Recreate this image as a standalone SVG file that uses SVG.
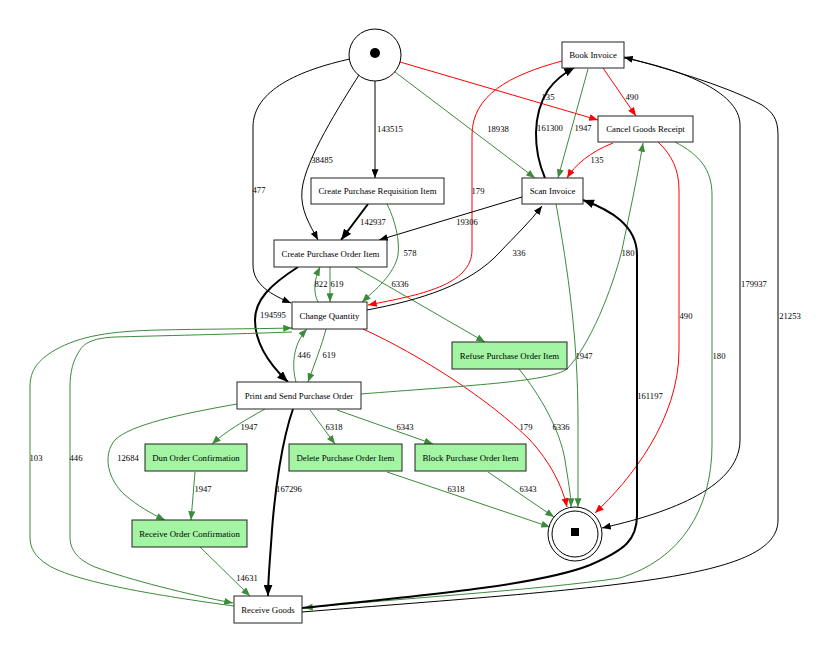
<svg xmlns="http://www.w3.org/2000/svg" width="830" height="653" viewBox="0 0 830 653">
<style>
.n rect{fill:#fff;stroke:#222;stroke-width:1}
.n.g rect{fill:#a3f5a3}
.n text{font-family:"Liberation Serif","Times New Roman",serif;font-size:8.8px;text-anchor:middle;fill:#000}
.e path{fill:none}
.k{stroke:#000;stroke-width:1}
.kt{stroke:#000;stroke-width:2}
.r{stroke:#f00;stroke-width:1}
.gr{stroke:#3c8a3c;stroke-width:1}
.l text{font-family:"Liberation Serif","Times New Roman",serif;font-size:8.6px;text-anchor:middle;fill:#000}
</style>
<defs>
<marker id="ak" viewBox="0 0 10 8" refX="10" refY="4" markerWidth="9" markerHeight="7" markerUnits="userSpaceOnUse" orient="auto"><path d="M0,0L10,4L0,8z" fill="#000"/></marker>
<marker id="akt" viewBox="0 0 10 8" refX="10" refY="4" markerWidth="11" markerHeight="9" markerUnits="userSpaceOnUse" orient="auto"><path d="M0,0L10,4L0,8z" fill="#000"/></marker>
<marker id="ar" viewBox="0 0 10 8" refX="10" refY="4" markerWidth="9" markerHeight="7" markerUnits="userSpaceOnUse" orient="auto"><path d="M0,0L10,4L0,8z" fill="#f00"/></marker>
<marker id="ag" viewBox="0 0 10 8" refX="10" refY="4" markerWidth="9" markerHeight="7" markerUnits="userSpaceOnUse" orient="auto"><path d="M0,0L10,4L0,8z" fill="#3c8a3c"/></marker>
</defs>
<rect width="830" height="653" fill="#fff"/>
<g id="edges" class="e">
<!-- start edges -->
<path class="k" marker-end="url(#ak)" d="M375,81 L375,178"/>
<path class="k" marker-end="url(#ak)" d="M359,75 C340,105 305,160 302,190 C300,210 310,225 318,240"/>
<path class="k" marker-end="url(#ak)" d="M350,59 C300,70 253,90 253,127 L253,265 C253,285 272,295 291,303"/>
<path class="gr" marker-end="url(#ag)" d="M395,72 L535,178"/>
<path class="r" marker-end="url(#ar)" d="M400,62 L598,120"/>
<!-- book invoice -->
<path class="r" marker-end="url(#ar)" d="M562,61 C510,75 472,95 472,135 L472,250 C472,285 420,295 368,305"/>
<path class="gr" marker-end="url(#ag)" d="M588,69 L558,178"/>
<path class="r" marker-end="url(#ar)" d="M603,68 L636,116"/>
<path class="k" marker-end="url(#ak)" d="M624,58 C675,68 740,90 740,125 L740,440 C740,490 660,515 602,528"/>
<path class="kt" marker-end="url(#akt)" d="M545,178 C533,150 532,115 548,90 C556,79 566,72 575,67"/>
<path class="k" marker-end="url(#ak)" d="M302,612 C450,600 600,590 680,575 C750,562 778,545 778,520 L778,135 C778,118 772,112 762,105 C730,88 680,72 624,57"/>
<!-- cancel goods receipt -->
<path class="r" marker-end="url(#ar)" d="M613,143 C590,152 575,165 567,178"/>
<path class="r" marker-end="url(#ar)" d="M658,142 C672,155 679,170 679,190 L679,350 C679,420 630,480 595,513"/>
<path class="gr" marker-end="url(#ag)" d="M675,142 C700,155 712,170 712,195 L712,445 C712,510 680,560 620,578 C540,590 380,600 304,608"/>
<!-- scan invoice -->
<path class="k" marker-end="url(#ak)" d="M522,197 L379,240"/>
<path class="gr" marker-end="url(#ag)" d="M556,204 C568,270 578,340 578,420 L578,507"/>
<!-- CPRI -->
<path class="kt" marker-end="url(#akt)" d="M368,204 L341,240"/>
<path class="gr" marker-end="url(#ag)" d="M387,204 C395,220 400,240 398,255 C394,275 375,290 362,302"/>
<!-- CPOI -->
<path class="gr" marker-end="url(#ag)" d="M330,267 L330,302"/>
<path class="gr" marker-end="url(#ag)" d="M318,302 C313,292 314,280 320,267"/>
<path class="gr" marker-end="url(#ag)" d="M355,267 L485,342"/>
<path class="kt" marker-end="url(#akt)" d="M298,267 C270,285 255,300 255,320 C255,345 270,365 288,382"/>
<!-- change quantity -->
<path class="k" marker-end="url(#ak)" d="M367,310 C420,300 470,285 500,252 C515,236 530,222 542,206"/>
<path class="r" marker-end="url(#ar)" d="M363,329 C420,355 490,400 530,440 C550,462 562,485 567,507"/>
<path class="gr" marker-end="url(#ag)" d="M326,329 C322,345 314,365 308,382"/>
<path class="gr" marker-end="url(#ag)" d="M296,382 C292,368 292,345 307,329"/>
<path class="gr" marker-end="url(#ag)" d="M292,332 C240,334 150,336 115,337 C95,338 85,342 80,350 C73,360 70,372 70,387 L70,537 C70,550 78,560 95,567 C130,580 190,595 233,603"/>
<path class="gr" marker-end="url(#ag)" d="M234,606 C160,596 75,582 48,565 C35,557 30,548 30,537 L30,387 C30,370 38,360 55,350 C80,336 110,331 160,330 C200,329 250,329 292,328"/>
<!-- refuse -->
<path class="gr" marker-end="url(#ag)" d="M519,369 C540,395 560,430 565,460 C568,480 571,495 571,507"/>
<!-- print and send -->
<path class="gr" marker-end="url(#ag)" d="M361,394 C460,386 550,382 567,369 C590,345 612,290 622,250 C627,225 637,180 643,143"/>
<path class="gr" marker-end="url(#ag)" d="M265,409 C245,420 225,432 212,444"/>
<path class="gr" marker-end="url(#ag)" d="M237,404 C180,414 130,425 115,440 C102,455 108,480 125,495 C138,506 150,513 165,520"/>
<path class="kt" marker-end="url(#akt)" d="M293,409 C282,440 275,490 272,530 C270,560 268,580 268,596"/>
<path class="gr" marker-end="url(#ag)" d="M310,410 L335,444"/>
<path class="gr" marker-end="url(#ag)" d="M337,410 L433,444"/>
<!-- lower -->
<path class="gr" marker-end="url(#ag)" d="M195,472 L191,520"/>
<path class="gr" marker-end="url(#ag)" d="M200,547 L250,596"/>
<path class="gr" marker-end="url(#ag)" d="M387,472 L550,527"/>
<path class="gr" marker-end="url(#ag)" d="M488,472 L554,517"/>
<!-- receive goods -->
<path class="kt" marker-end="url(#akt)" d="M302,608 C420,596 540,585 590,565 C625,550 637,540 637,515 L637,255 C637,225 610,210 583,200"/>
</g>
<g id="edge-labels" class="l">
<text x="390" y="132">143515</text>
<text x="322" y="163">38485</text>
<text x="259" y="193">477</text>
<text x="498" y="132">18938</text>
<text x="548" y="100">135</text>
<text x="373" y="225">142937</text>
<text x="410" y="256">578</text>
<text x="467" y="225">19306</text>
<text x="519" y="256">336</text>
<text x="478" y="194">179</text>
<text x="583" y="131">1947</text>
<text x="550" y="131">161300</text>
<text x="632" y="100">490</text>
<text x="597" y="163">135</text>
<text x="686" y="319">490</text>
<text x="719" y="359">180</text>
<text x="754" y="287">179937</text>
<text x="790" y="319">21253</text>
<text x="650" y="399">161197</text>
<text x="628" y="256">180</text>
<text x="584" y="359">1947</text>
<text x="561" y="430">6336</text>
<text x="526" y="430">179</text>
<text x="400" y="287">6336</text>
<text x="337" y="287">619</text>
<text x="321" y="287">822</text>
<text x="273" y="318">194595</text>
<text x="329" y="358">619</text>
<text x="304" y="358">446</text>
<text x="36" y="461">103</text>
<text x="76" y="461">446</text>
<text x="249" y="430">1947</text>
<text x="128" y="461">12684</text>
<text x="203" y="492">1947</text>
<text x="247" y="581">14631</text>
<text x="289" y="492">167296</text>
<text x="334" y="430">6318</text>
<text x="405" y="430">6343</text>
<text x="456" y="492">6318</text>
<text x="528" y="492">6343</text>
</g>
<g id="start"><circle cx="375" cy="55" r="26" fill="#fff" stroke="#000"/><circle cx="375" cy="53" r="5" fill="#000"/></g>
<g id="end"><circle cx="575" cy="534" r="27" fill="#fff" stroke="#000"/><circle cx="575" cy="534" r="23" fill="none" stroke="#000"/><rect x="571" y="528" width="8" height="8" fill="#000"/></g>
<g id="book-invoice" class="n"><rect x="562" y="42" width="62" height="26"/><text x="593" y="58">Book Invoice</text></g>
<g id="cancel-goods-receipt" class="n"><rect x="598" y="116" width="95" height="26"/><text x="645.5" y="132">Cancel Goods Receipt</text></g>
<g id="scan-invoice" class="n"><rect x="522" y="178" width="61" height="26"/><text x="552.5" y="194">Scan Invoice</text></g>
<g id="create-purchase-requisition-item" class="n"><rect x="311" y="178" width="133" height="26"/><text x="377.5" y="194">Create Purchase Requisition Item</text></g>
<g id="create-purchase-order-item" class="n"><rect x="274" y="240" width="113" height="27"/><text x="330.5" y="256.5">Create Purchase Order Item</text></g>
<g id="change-quantity" class="n"><rect x="292" y="302" width="75" height="27"/><text x="329.5" y="318.5">Change Quantity</text></g>
<g id="refuse-purchase-order-item" class="n g"><rect x="452" y="342" width="115" height="27"/><text x="509.5" y="358.5">Refuse Purchase Order Item</text></g>
<g id="print-and-send-purchase-order" class="n"><rect x="237" y="382" width="124" height="27"/><text x="299" y="398.5">Print and Send Purchase Order</text></g>
<g id="dun-order-confirmation" class="n g"><rect x="145" y="444" width="102" height="27"/><text x="196" y="460.5">Dun Order Confirmation</text></g>
<g id="delete-purchase-order-item" class="n g"><rect x="289" y="444" width="113" height="27"/><text x="345.5" y="460.5">Delete Purchase Order Item</text></g>
<g id="block-purchase-order-item" class="n g"><rect x="415" y="444" width="111" height="27"/><text x="470.5" y="460.5">Block Purchase Order Item</text></g>
<g id="receive-order-confirmation" class="n g"><rect x="132" y="520" width="115" height="27"/><text x="189.5" y="536.5">Receive Order Confirmation</text></g>
<g id="receive-goods" class="n"><rect x="234" y="596" width="68" height="27"/><text x="268" y="612.5">Receive Goods</text></g>
</svg>
